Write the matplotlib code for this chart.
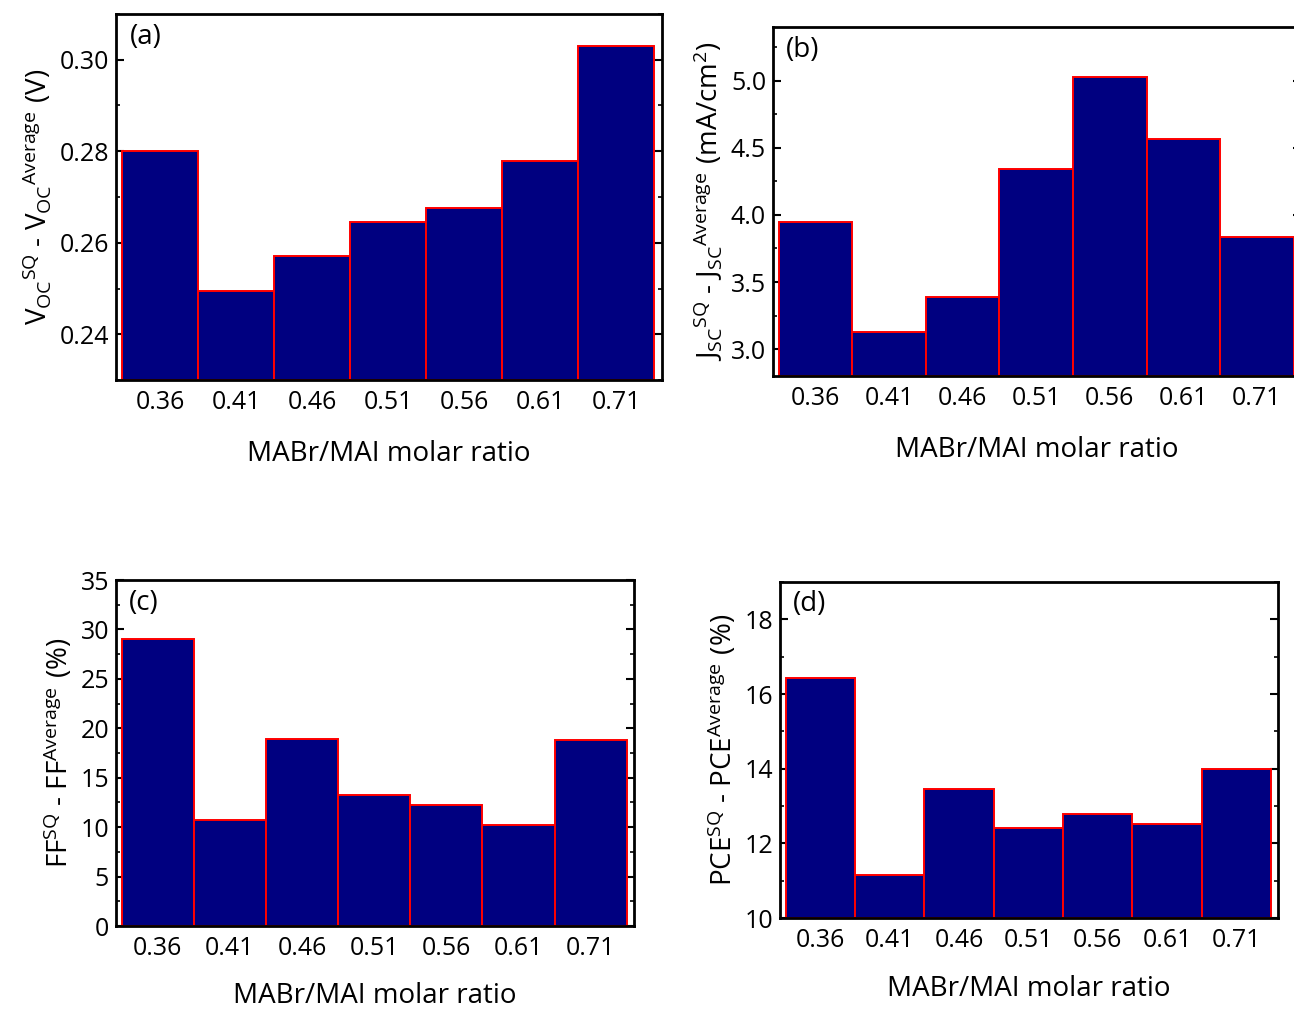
import matplotlib
matplotlib.use("Agg")
import matplotlib.pyplot as plt
import numpy as np

categories = ["0.36", "0.41", "0.46", "0.51", "0.56", "0.61", "0.71"]
voc_diff = [0.2800, 0.2495, 0.2571, 0.2646, 0.2675, 0.2778, 0.3031]
jsc_diff = [3.95, 3.127, 3.387, 4.344, 5.03, 4.568, 3.836]
ff_diff = [29.06, 10.7, 18.92, 13.23, 12.19, 10.2, 18.86]
pce_diff = [16.43, 11.16, 13.46, 12.41, 12.78, 12.53, 14.0]

plt.rcParams['font.family'] = ['Open Sans', 'DejaVu Sans']
plt.rcParams['mathtext.fontset'] = 'custom'
plt.rcParams['mathtext.rm'] = 'Open Sans'
plt.rcParams['mathtext.it'] = 'Open Sans'

W, H = 1294, 1010
fig = plt.figure(figsize=(W / 100, H / 100), dpi=100)

def ax_at(l, r, t, b):
    return fig.add_axes([l / W, 1 - b / H, (r - l) / W, (b - t) / H])

panels = [
    dict(box=(116, 662, 14, 380), data=voc_diff, ylim=(0.23, 0.31), major=0.02, minor=0.01,
         fmt="%.2f", label=r'$\mathregular{V_{OC}{}^{SQ}\text{ - }V_{OC}{}^{Average}\ (V)}$', tag="(a)", lp=18),
    dict(box=(773, 1301, 27, 376), data=jsc_diff, ylim=(2.8, 5.4), major=0.5, minor=0.25,
         fmt="%.1f", label=r'$\mathregular{J_{SC}{}^{SQ}\text{ - }J_{SC}{}^{Average}\ (mA/cm^{2})}$', tag="(b)", lp=18),
    dict(box=(116, 634, 580, 926), data=ff_diff, ylim=(0, 35), major=5, minor=2.5,
         fmt="%d", label=r'$\mathregular{FF^{SQ}\text{ - }FF^{Average}\ (\%)}$', tag="(c)", lp=15),
    dict(box=(780, 1278, 582, 918), data=pce_diff, ylim=(10, 19), major=2, minor=1,
         fmt="%d", label=r'$\mathregular{PCE^{SQ}\text{ - }PCE^{Average}\ (\%)}$', tag="(d)", lp=16),
]

x = np.arange(len(categories))
for p in panels:
    ax = ax_at(*p["box"])
    lo, hi = p["ylim"]
    ax.bar(x, np.array(p["data"]) - lo, bottom=lo, width=1.0, color="#000080",
           edgecolor="red", linewidth=1.4, zorder=2)
    ax.set_xlim(-0.58, 6.60)
    ax.set_ylim(lo, hi)
    ax.set_xticks(x)
    ax.set_xticklabels(categories)
    ax.yaxis.set_major_locator(matplotlib.ticker.MultipleLocator(p["major"]))
    ax.yaxis.set_minor_locator(matplotlib.ticker.MultipleLocator(p["minor"]))
    ax.yaxis.set_major_formatter(matplotlib.ticker.FormatStrFormatter(p["fmt"]))
    ax.tick_params(axis='y', which='both', direction='in', left=True, right=True, labelsize=18)
    ax.tick_params(axis='y', which='major', length=6, width=1.5, pad=5)
    ax.tick_params(axis='y', which='minor', length=3, width=1.2)
    ax.tick_params(axis='x', length=0, labelsize=18, pad=7)
    for s in ax.spines.values():
        s.set_linewidth(2)
        s.set_zorder(3)
    ax.set_xlabel("MABr/MAI molar ratio", fontsize=20, labelpad=p["lp"])
    ax.set_ylabel(p["label"], fontsize=20, labelpad=4)
    ax.text(0.025, 0.975, p["tag"], transform=ax.transAxes, fontsize=20, va='top', ha='left', zorder=4)

fig.savefig("out.png", dpi=100)
